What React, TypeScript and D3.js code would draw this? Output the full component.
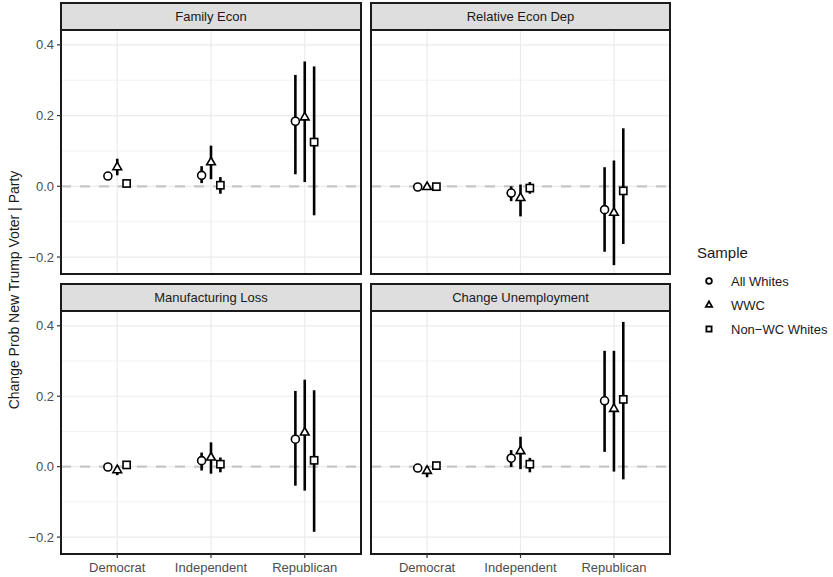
import React from "react";
import * as d3 from "d3";

const facets = ["Family Econ", "Relative Econ Dep", "Manufacturing Loss", "Change Unemployment"];
const parties = ["Democrat", "Independent", "Republican"];
const samples = ["All Whites", "WWC", "Non\u2212WC Whites"];
const yTicks = [-0.2, 0.0, 0.2, 0.4];
const yMinor = [-0.1, 0.1, 0.3];

// Family Econ
const famEst = [[0.029, 0.031, 0.184], [0.054, 0.068, 0.195], [0.008, 0.003, 0.125]];
const famLo = [[0.022, 0.009, 0.034], [0.031, 0.020, 0.012], [0.002, -0.021, -0.082]];
const famHi = [[0.036, 0.057, 0.315], [0.078, 0.115, 0.353], [0.014, 0.026, 0.339]];
// Relative Econ Dep
const relEst = [[-0.002, -0.019, -0.066], [-0.002, -0.033, -0.075], [-0.001, -0.005, -0.013]];
const relLo = [[-0.006, -0.042, -0.185], [-0.010, -0.085, -0.223], [-0.004, -0.021, -0.163]];
const relHi = [[0.002, 0.0, 0.054], [0.004, 0.005, 0.073], [0.003, 0.012, 0.164]];
// Manufacturing Loss
const manEst = [[-0.001, 0.017, 0.078], [-0.010, 0.026, 0.097], [0.005, 0.007, 0.018]];
const manLo = [[-0.005, -0.011, -0.054], [-0.024, -0.020, -0.068], [0.0, -0.016, -0.185]];
const manHi = [[0.003, 0.040, 0.215], [0.003, 0.069, 0.247], [0.010, 0.026, 0.217]];
// Change Unemployment
const unEst = [[-0.004, 0.024, 0.187], [-0.012, 0.044, 0.164], [0.003, 0.007, 0.191]];
const unLo = [[-0.008, -0.001, 0.042], [-0.030, -0.007, -0.014], [-0.001, -0.016, -0.036]];
const unHi = [[0.0, 0.047, 0.329], [0.002, 0.085, 0.329], [0.008, 0.025, 0.411]];

const facetData = [
  { est: famEst, lo: famLo, hi: famHi },
  { est: relEst, lo: relLo, hi: relHi },
  { est: manEst, lo: manLo, hi: manHi },
  { est: unEst, lo: unLo, hi: unHi },
];

const FONT = "'Liberation Sans', Arial, Helvetica, sans-serif";

function Shape({ kind, x, y, s = 1, sw = 1.6 }: { kind: number; x: number; y: number; s?: number; sw?: number }) {
  if (kind === 0) return <circle cx={x} cy={y} r={4 * s} fill="#fff" stroke="#000" strokeWidth={sw} />;
  if (kind === 1) {
    const r = 5 * s;
    const p = `M${x},${y - r}L${x + r * 0.866},${y + r * 0.5}L${x - r * 0.866},${y + r * 0.5}Z`;
    return <path d={p} fill="#fff" stroke="#000" strokeWidth={sw} strokeLinejoin="miter" />;
  }
  const h = 3.6 * s;
  return <rect x={x - h} y={y - h} width={2 * h} height={2 * h} fill="#fff" stroke="#000" strokeWidth={sw} />;
}

export default function App() {
  const W = 833, H = 577;
  const colX = [[61, 361], [371, 670]];
  const rowY = [[3, 30, 274], [284, 311, 554]]; // strip top, panel top, panel bottom
  const yDomain: [number, number] = [-0.248, 0.442];

  const panels = facets.map((name, i) => {
    const c = i % 2, r = Math.floor(i / 2);
    const [x0, x1] = colX[c];
    const [st, pt, pb] = rowY[r];
    const x = d3.scalePoint<string>().domain(parties).range([x0, x1]).padding(0.6);
    const y = d3.scaleLinear().domain(yDomain).range([pb, pt]);
    const step = x.step();
    const dodge = [-0.1 * step, 0, 0.1 * step];
    const dd = facetData[i];
    return (
      <g key={name}>
        <rect x={x0} y={pt} width={x1 - x0} height={pb - pt} fill="#fff" />
        {yMinor.map((t) => (
          <line key={"mn" + t} x1={x0} x2={x1} y1={y(t)} y2={y(t)} stroke="#f2f2f2" strokeWidth={1} />
        ))}
        {yTicks.map((t) => (
          <line key={"mj" + t} x1={x0} x2={x1} y1={y(t)} y2={y(t)} stroke="#ebebeb" strokeWidth={1.2} />
        ))}
        {parties.map((p) => (
          <line key={"v" + p} x1={x(p)!} x2={x(p)!} y1={pt} y2={pb} stroke="#ebebeb" strokeWidth={1.2} />
        ))}
        <line x1={x0} x2={x1} y1={y(0)} y2={y(0)} stroke="#c6c6c6" strokeWidth={2.2} strokeDasharray="10,9" />
        {samples.map((s, si) =>
          parties.map((p, pi) => (
            <line key={"e" + s + p} x1={x(p)! + dodge[si]} x2={x(p)! + dodge[si]}
              y1={y(dd.lo[si][pi])} y2={y(dd.hi[si][pi])} stroke="#000" strokeWidth={2.6} />
          ))
        )}
        {samples.map((s, si) =>
          parties.map((p, pi) => (
            <Shape key={"p" + s + p} kind={si} x={x(p)! + dodge[si]} y={y(dd.est[si][pi])} />
          ))
        )}
        <rect x={x0} y={pt} width={x1 - x0} height={pb - pt} fill="none" stroke="#1a1a1a" strokeWidth={2} />
        <rect x={x0} y={st} width={x1 - x0} height={pt - st} fill="#dedede" stroke="#1a1a1a" strokeWidth={2} />
        <text x={(x0 + x1) / 2} y={(st + pt) / 2 + 4.6} textAnchor="middle" fontSize={13} fill="#1a1a1a" fontFamily={FONT}>{name}</text>
        {c === 0 && yTicks.map((t) => (
          <g key={"yt" + t}>
            <line x1={x0 - 4} x2={x0} y1={y(t)} y2={y(t)} stroke="#333" strokeWidth={1.2} />
            <text x={x0 - 7} y={y(t) + 4.6} textAnchor="end" fontSize={13} fill="#4d4d4d" fontFamily={FONT}>
              {t < 0 ? "\u2212" + Math.abs(t).toFixed(1) : t.toFixed(1)}
            </text>
          </g>
        ))}
        {r === 1 && parties.map((p) => (
          <g key={"xt" + p}>
            <line x1={x(p)!} x2={x(p)!} y1={pb} y2={pb + 4} stroke="#333" strokeWidth={1.2} />
            <text x={x(p)!} y={pb + 18} textAnchor="middle" fontSize={13} fill="#4d4d4d" fontFamily={FONT}>{p}</text>
          </g>
        ))}
      </g>
    );
  });

  return (
    <svg width={W} height={H} style={{ position: "absolute", left: 0, top: 0, display: "block" }}>
      <rect width={W} height={H} fill="#fff" />
      {panels}
      <text transform={`translate(18.5,${(30 + 554) / 2 - 2}) rotate(-90)`} textAnchor="middle" fontSize={14} fill="#1a1a1a" fontFamily={FONT}>
        Change Prob New Trump Voter | Party
      </text>
      <text x={697} y={258} fontSize={15} fill="#1a1a1a" fontFamily={FONT}>Sample</text>
      {samples.map((s, si) => (
        <g key={"lg" + s}>
          <Shape kind={si} x={709} y={281 + si * 24} s={0.72} sw={1.8} />
          <text x={731} y={281 + si * 24 + 4.6} fontSize={13} fill="#1a1a1a" fontFamily={FONT}>{s}</text>
        </g>
      ))}
    </svg>
  );
}
